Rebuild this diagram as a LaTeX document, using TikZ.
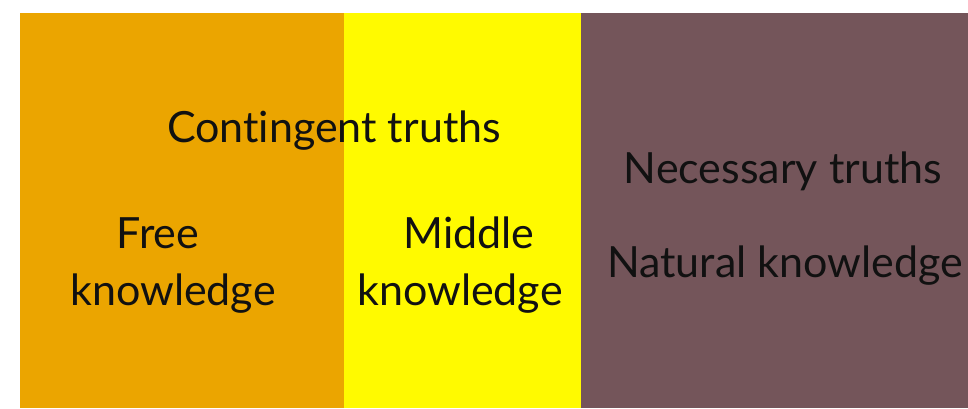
\documentclass[tikz,border=0pt]{standalone}
\usepackage{fontspec}
\setmainfont{Lato}[Ligatures={NoCommon}]
\definecolor{freeorange}{RGB}{235,165,0}
\definecolor{midyellow}{RGB}{255,250,0}
\definecolor{natbrown}{RGB}{116,85,90}
\definecolor{txt}{RGB}{17,17,17}
\begin{document}
\begin{tikzpicture}[x=1pt,y=-1pt,
  lbl/.style={anchor=base,text=txt,font=\fontsize{43}{57}\selectfont,inner sep=0pt,align=center}]
\useasboundingbox (0,0) rectangle (968,408);
\fill[white] (0,0) rectangle (968,408);
\fill[freeorange] (20,13) rectangle (344,408);
\fill[midyellow] (344,13) rectangle (581,408);
\fill[natbrown] (581,13) rectangle (968,408);
\node[lbl] (cont) at (334,142) {Contingent truths};
\node[lbl] (free1) at (158,248) {Free};
\node[lbl] (free2) at (173,305) {knowledge};
\node[lbl] (mid1) at (469,248) {Middle};
\node[lbl] (mid2) at (460,305) {knowledge};
\node[lbl] (nec) at (783,183) {Necessary truths};
\node[lbl] (nat) at (785,277) {Natural knowledge};
\end{tikzpicture}
\end{document}
